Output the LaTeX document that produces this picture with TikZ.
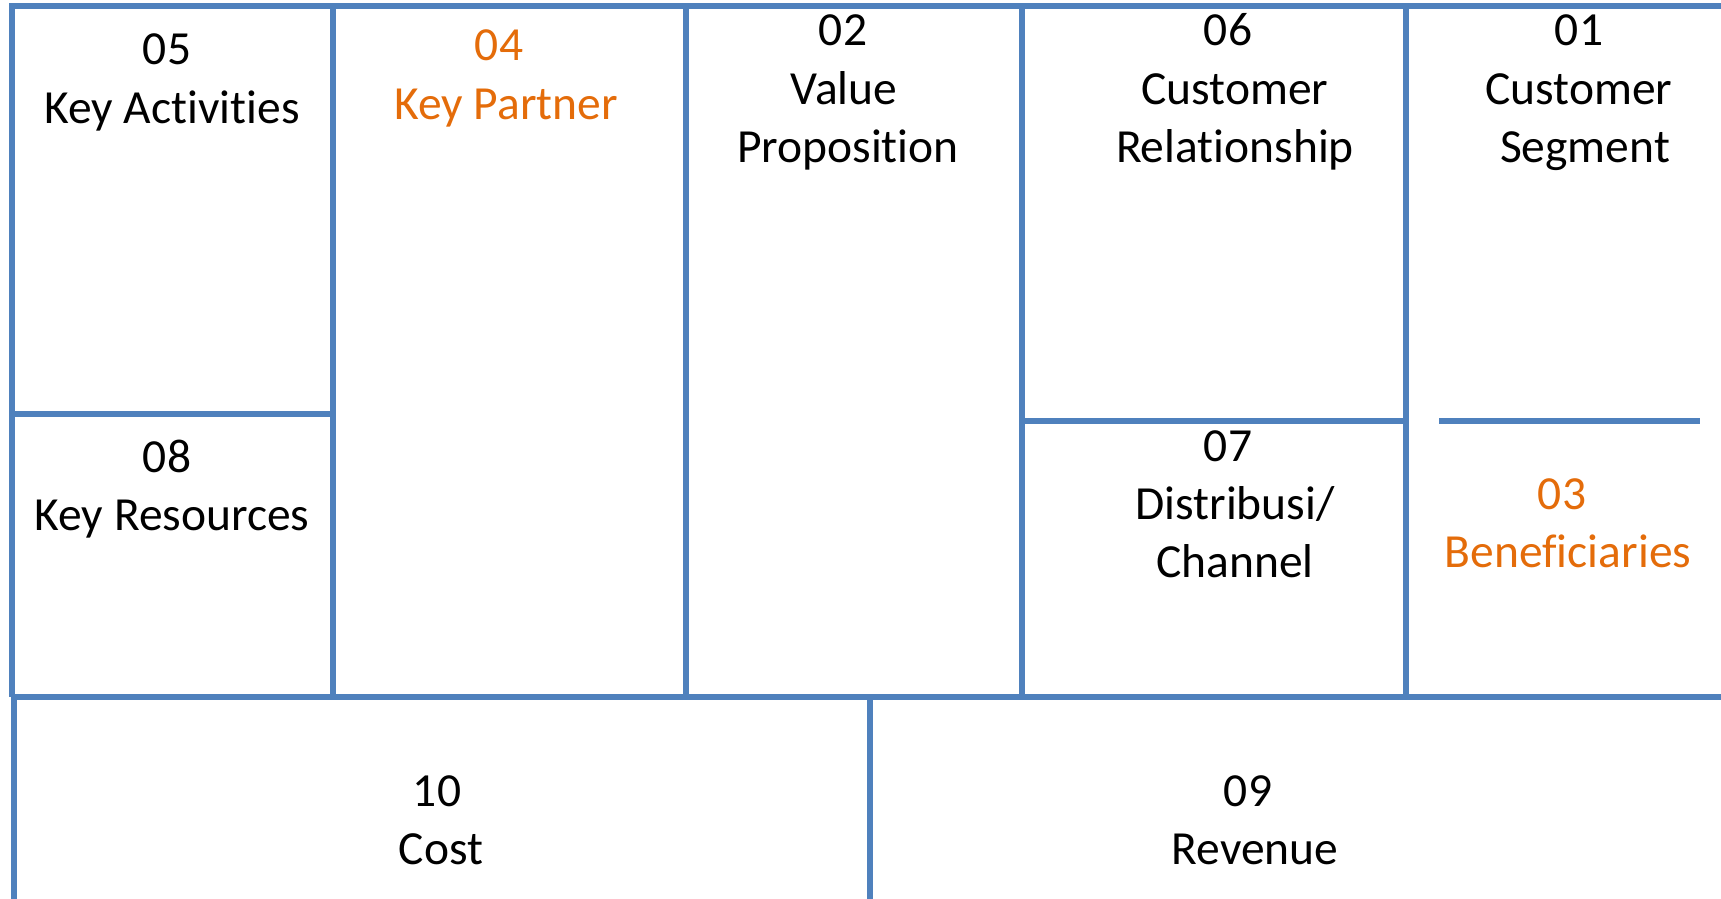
\documentclass[tikz,border=0pt]{standalone}
\usepackage{fontspec}
\setmainfont[Ligatures={NoCommon,NoRequired,NoContextual}]{Carlito}
\definecolor{gridblue}{HTML}{4F81BD}
\definecolor{accorange}{HTML}{E46C0A}
\begin{document}
\begin{tikzpicture}[x=1pt,y=-1pt,
  gridline/.style={draw=gridblue,line width=5.2pt},
  shadowline/.style={draw=black!18,line width=5.5pt,opacity=0.6},
  lbl/.style={font=\fontsize{47.5}{58}\selectfont,anchor=base,inner sep=0pt},
  orng/.style={text=accorange}]
\useasboundingbox (0,0) rectangle (1721,899);
% grid coordinates
\coordinate (TL) at (12,6);
\coordinate (TR) at (1721,6);
\coordinate (ML) at (12,697);
\coordinate (MR) at (1721,697);
\coordinate (BL0) at (14,697);
\coordinate (BL1) at (14,899);
\coordinate (V1t) at (333,6);   \coordinate (V1b) at (333,697);
\coordinate (V2t) at (686,6);   \coordinate (V2b) at (686,697);
\coordinate (V3t) at (1022,6);  \coordinate (V3b) at (1022,697);
\coordinate (V4t) at (1406,6);  \coordinate (V4b) at (1406,697);
\coordinate (H1l) at (12,414);  \coordinate (H1r) at (336,414);
\coordinate (H2l) at (1022,421);\coordinate (H2r) at (1406,421);
\coordinate (H3l) at (1439,421);\coordinate (H3r) at (1700,421);
\coordinate (VBt) at (870,697); \coordinate (VBb) at (870,899);
% shadows
\begin{scope}[shift={(2,3)}]
\draw[shadowline] (TL) -- (TR);
\draw[shadowline] (H1l) -- (H1r);
\draw[shadowline] (H2l) -- (H2r);
\draw[shadowline] (H3l) -- (H3r);
\draw[shadowline] (ML) -- (MR);
\draw[shadowline] (V1t) -- (V1b);
\draw[shadowline] (V2t) -- (V2b);
\draw[shadowline] (V3t) -- (V3b);
\draw[shadowline] (V4t) -- (V4b);
\draw[shadowline] (VBt) -- (VBb);
\end{scope}
% grid
\draw[gridline] (TR) -- (TL) -- (ML);
\draw[gridline] (BL0) -- (BL1);
\draw[gridline] (ML) -- (MR);
\draw[gridline] (V1t) -- (V1b);
\draw[gridline] (V2t) -- (V2b);
\draw[gridline] (V3t) -- (V3b);
\draw[gridline] (V4t) -- (V4b);
\draw[gridline] (H1l) -- (H1r);
\draw[gridline] (H2l) -- (H2r);
\draw[gridline] (H3l) -- (H3r);
\draw[gridline] (VBt) -- (VBb);
% texts
\node[lbl] (t05a) at (167,65) {05};
\node[lbl] (t05b) at (172,123) {Key Activities};
\node[lbl,orng] (t04a) at (499,61) {04};
\node[lbl,orng] (t04b) at (506,119) {Key Partner};
\node[lbl] (t02a) at (843,46) {02};
\node[lbl] (t02b) at (844,104) {Value};
\node[lbl] (t02c) at (848,162) {Proposition};
\node[lbl] (t06a) at (1228,46) {06};
\node[lbl] (t06b) at (1235,104) {Customer};
\node[lbl] (t06c) at (1235,162) {Relationship};
\node[lbl] (t01a) at (1579,46) {01};
\node[lbl] (t01b) at (1579,104) {Customer};
\node[lbl] (t01c) at (1585,162) {Segment};
\node[lbl] (t08a) at (167,472) {08};
\node[lbl] (t08b) at (172,530) {Key Resources};
\node[lbl] (t07a) at (1228,461) {07};
\node[lbl] (t07b) at (1235,519) {Distribusi/};
\node[lbl] (t07c) at (1235,577) {Channel};
\node[lbl,orng] (t03a) at (1562,509) {03};
\node[lbl,orng] (t03b) at (1568,567) {Beneficiaries};
\node[lbl] (t10a) at (437,806) {10};
\node[lbl] (t10b) at (441,864) {Cost};
\node[lbl] (t09a) at (1248,806) {09};
\node[lbl] (t09b) at (1255,864) {Revenue};
\end{tikzpicture}
\end{document}
